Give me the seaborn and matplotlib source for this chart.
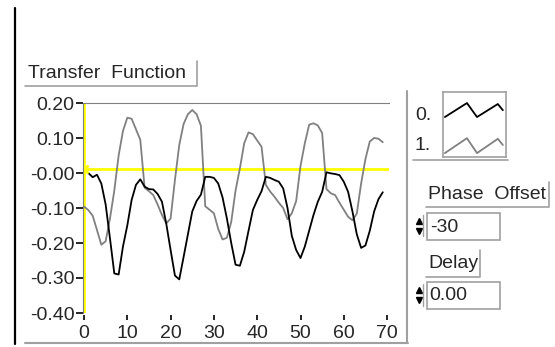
import numpy as np
import pandas as pd
import matplotlib
matplotlib.use("Agg")
import matplotlib.pyplot as plt
import seaborn as sns

# series 0 (black) and series 1 (grey), one sample per x = 0..69
x_vals = list(range(70))
trace_0 = [0.01, 0.0, -0.012, -0.005, -0.03, -0.09, -0.187, -0.287, -0.29, -0.21,
           -0.15, -0.077, -0.034, -0.018, -0.039, -0.046, -0.047, -0.06, -0.082, -0.145,
           -0.22, -0.293, -0.304, -0.24, -0.175, -0.11, -0.08, -0.062, -0.011, -0.011,
           -0.014, -0.03, -0.07, -0.13, -0.2, -0.262, -0.265, -0.225, -0.165, -0.106,
           -0.077, -0.052, -0.011, -0.014, -0.02, -0.025, -0.044, -0.1, -0.18, -0.22,
           -0.243, -0.21, -0.165, -0.12, -0.082, -0.054, 0.002, -0.001, -0.003, -0.006,
           -0.025, -0.054, -0.11, -0.175, -0.214, -0.207, -0.165, -0.11, -0.075, -0.055]
trace_1 = [-0.096, -0.106, -0.122, -0.163, -0.205, -0.195, -0.13, -0.05, 0.05, 0.12,
           0.158, 0.155, 0.125, 0.095, -0.042, -0.052, -0.063, -0.09, -0.12, -0.144,
           -0.13, -0.02, 0.08, 0.14, 0.168, 0.18, 0.168, 0.135, -0.095, -0.105,
           -0.115, -0.16, -0.19, -0.185, -0.14, -0.05, 0.013, 0.085, 0.116, 0.111,
           0.093, 0.075, -0.034, -0.053, -0.068, -0.085, -0.1, -0.132, -0.115, -0.08,
           0.02, 0.085, 0.138, 0.142, 0.136, 0.114, -0.046, -0.058, -0.063, -0.085,
           -0.105, -0.125, -0.135, -0.116, -0.03, 0.04, 0.09, 0.1, 0.098, 0.088]
series_names = ["0.", "1."]
y_ticks = [0.2, 0.1, 0.0, -0.1, -0.2, -0.3, -0.4]
y_tick_labels = ["0.20", "0.10", "-0.00", "-0.10", "-0.20", "-0.30", "-0.40"]
x_ticks = [0, 10, 20, 30, 40, 50, 60, 70]
cursor_x = 0
cursor_y = 0.012

# little zigzag icons shown in the plot legend
icon_x = [0.03, 0.38, 0.54, 0.87, 0.95]
icon_y0 = [0.615, 0.83, 0.615, 0.815, 0.72]
icon_y1 = [0.06, 0.29, 0.06, 0.28, 0.185]

title = "Transfer  Function"
phase_label = "Phase  Offset"
phase_value = "-30"
delay_label = "Delay"
delay_value = "0.00"

sns.set_style("white")
plt.rcParams["font.family"] = ["Liberation Sans", "DejaVu Sans"]

W, H = 555, 347
fig = plt.figure(figsize=(W / 100, H / 100), dpi=100)
fig.patch.set_facecolor("white")

# overlay in pixel coords for the panel decorations
deco = fig.add_axes([0, 0, 1, 1], zorder=0)
deco.set_xlim(0, W)
deco.set_ylim(H, 0)
deco.axis("off")

frame = "#a0a0a0"
deco.plot([14.5, 14.5], [8, 344], color="black", lw=1.6)
deco.plot([25, 408], [343, 343], color=frame, lw=1.5)
deco.plot([407, 407], [91, 343], color=frame, lw=1.5)

# title tag
deco.text(28, 73, title, fontsize=14, va="center", ha="left")
deco.plot([25, 197, 197], [86, 86, 61], color=frame, lw=1.2)

# legend
deco.text(415, 115, series_names[0], fontsize=14, va="center", ha="left")
deco.text(415, 145, series_names[1], fontsize=14, va="center", ha="left")
deco.plot([413, 508], [160, 160], color=frame, lw=1.2)

# phase offset control
deco.text(428, 194, phase_label, fontsize=14, va="center", ha="left")
deco.plot([426, 549, 549], [207, 207, 182], color=frame, lw=1.2)
deco.add_patch(plt.Rectangle((427, 213), 73, 27, fill=False, ec=frame, lw=1.2))
deco.text(430, 227, phase_value, fontsize=14, va="center", ha="left")
deco.plot([419], [221], marker="^", color="black", ms=4)
deco.plot([419], [231], marker="v", color="black", ms=4)
deco.plot([423, 423], [215, 236], color=frame, lw=1)

# delay control
deco.text(428, 263, delay_label, fontsize=14, va="center", ha="left")
deco.plot([426, 480, 480], [277, 277, 250], color=frame, lw=1.2)
deco.add_patch(plt.Rectangle((427, 282), 73, 27, fill=False, ec=frame, lw=1.2))
deco.text(429, 296, delay_value, fontsize=14, va="center", ha="left")
deco.plot([419], [290], marker="^", color="black", ms=4)
deco.plot([419], [300], marker="v", color="black", ms=4)
deco.plot([423, 423], [284, 306], color=frame, lw=1)

# main plot
ax = fig.add_axes([84 / W, (H - 313) / H, 305 / W, 210 / H], zorder=2)
ax.patch.set_alpha(0)

df = pd.DataFrame({
    "x": x_vals * 2,
    "value": trace_0 + trace_1,
    "series": [series_names[0]] * len(x_vals) + [series_names[1]] * len(x_vals),
})
sns.lineplot(data=df, x="x", y="value", hue="series", hue_order=["1.", "0."],
             palette={"0.": "black", "1.": "#808080"}, estimator=None,
             lw=1.3, legend=False, ax=ax)

ax.axhline(cursor_y, color="#ffff00", lw=2, zorder=1)
ax.axvline(cursor_x, color="#ffff00", lw=2, zorder=1)
ax.plot([cursor_x], [cursor_y], marker="x", color="#ffff00", ms=6, mew=2, zorder=3)

ax.set_xlim(0, 305 / 4.33)
ax.set_ylim(-0.4, 0.2)
ax.set_xticks(x_ticks)
ax.set_yticks(y_ticks)
ax.set_yticklabels(y_tick_labels)
ax.set_xlabel("")
ax.set_ylabel("")
ax.tick_params(axis="y", left=True, direction="out", length=5, width=1.2,
               color="black", pad=1, labelsize=14)
ax.tick_params(axis="x", bottom=True, direction="out", length=3.5, width=1.2,
               color="black", pad=4, labelsize=14)
ax.spines["right"].set_visible(False)
ax.spines["bottom"].set_visible(False)
ax.spines["bottom"].set_position(("outward", 1.5))
ax.spines["top"].set_color("#808080")
ax.spines["left"].set_color("#808080")
ax.spines["left"].set_position(("outward", 1))
ax.grid(False)

# legend icons
leg = fig.add_axes([443 / W, (H - 157) / H, 63 / W, 65 / H], zorder=2)
sns.lineplot(x=icon_x, y=icon_y0, color="black", lw=1.3, ax=leg, estimator=None)
sns.lineplot(x=icon_x, y=icon_y1, color="#808080", lw=1.3, ax=leg, estimator=None)
leg.set_xlim(0, 1)
leg.set_ylim(0, 1)
leg.set_xticks([])
leg.set_yticks([])
for s in leg.spines.values():
    s.set_color(frame)
    s.set_linewidth(1.2)

fig.savefig("out.png", dpi=100)
